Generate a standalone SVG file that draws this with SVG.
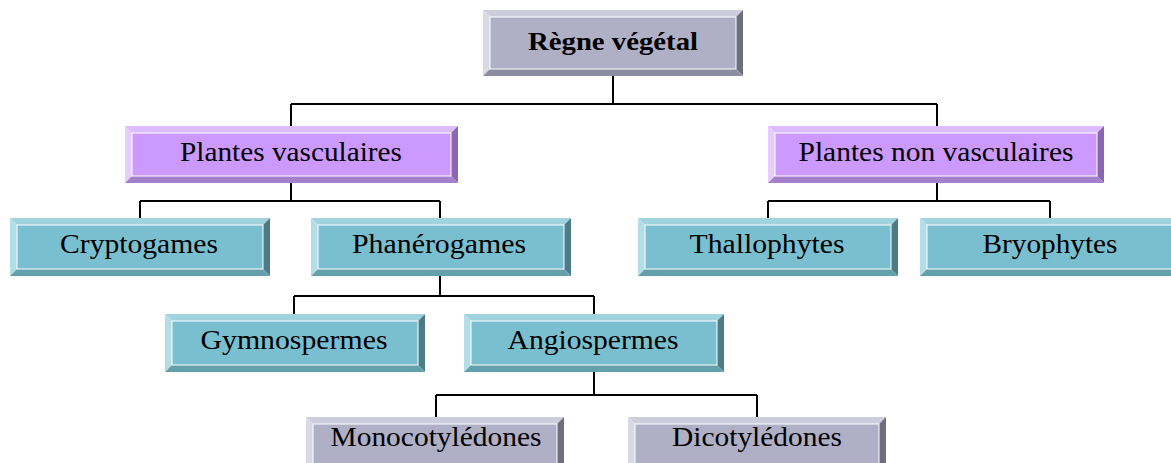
<svg xmlns="http://www.w3.org/2000/svg" width="1171" height="463" viewBox="0 0 1171 463">
<style>
text{font-family:"Liberation Serif","Times New Roman",serif;font-size:27px;fill:#000;text-anchor:middle}
.bold{font-weight:bold;font-size:26px}
.conn{fill:none;stroke:#000;stroke-width:2}
.face{stroke:#fff;stroke-width:1}
.g .face{fill:#afafc6}.g .t{fill:#cdcddc}.g .l{fill:#d9d9e6}.g .r{fill:#6e6e7e}.g .b{fill:#8c8ca2}
.p .face{fill:#cc99ff}.p .t{fill:#ddbbff}.p .l{fill:#e6ccff}.p .r{fill:#8a66b0}.p .b{fill:#a37fcc}
.c .face{fill:#79bfcf}.c .t{fill:#a1d3df}.c .l{fill:#b3dde7}.c .r{fill:#4d7c87}.c .b{fill:#63a0ac}
</style>
<g id="connectors" class="conn">
<path d="M613 76V104M291 104H937M291 104V126M937 104V126"/>
<path d="M291 183V201M140 201H440M140 201V218M440 201V218"/>
<path d="M937 183V201M768 201H1050M768 201V218M1050 201V218"/>
<path d="M440 276V296M294 296H594M294 296V314M594 296V314"/>
<path d="M594 372V395M436 395H757M436 395V417M757 395V417"/>
</g>
<g id="regne" class="g" transform="translate(483,10)">
<polygon class="t" points="0,0 260,0 253,7 7,7"/><polygon class="l" points="0,0 7,7 7,59 0,66"/>
<polygon class="r" points="260,0 260,66 253,59 253,7"/><polygon class="b" points="0,66 260,66 253,59 7,59"/>
<rect class="face" x="7" y="7" width="246" height="52"/>
<text class="bold" x="130" y="40" textLength="170" lengthAdjust="spacingAndGlyphs">Règne végétal</text>
</g>
<g id="vasculaires" class="p" transform="translate(125,126)">
<polygon class="t" points="0,0 333,0 326,7 7,7"/><polygon class="l" points="0,0 7,7 7,50 0,57"/>
<polygon class="r" points="333,0 333,57 326,50 326,7"/><polygon class="b" points="0,57 333,57 326,50 7,50"/>
<rect class="face" x="7" y="7" width="319" height="43"/>
<text x="166" y="35" textLength="222" lengthAdjust="spacingAndGlyphs">Plantes vasculaires</text>
</g>
<g id="nonvasculaires" class="p" transform="translate(768,126)">
<polygon class="t" points="0,0 336,0 329,7 7,7"/><polygon class="l" points="0,0 7,7 7,50 0,57"/>
<polygon class="r" points="336,0 336,57 329,50 329,7"/><polygon class="b" points="0,57 336,57 329,50 7,50"/>
<rect class="face" x="7" y="7" width="322" height="43"/>
<text x="168" y="35" textLength="275" lengthAdjust="spacingAndGlyphs">Plantes non vasculaires</text>
</g>
<g id="cryptogames" class="c" transform="translate(10,218)">
<polygon class="t" points="0,0 260,0 253,7 7,7"/><polygon class="l" points="0,0 7,7 7,51 0,58"/>
<polygon class="r" points="260,0 260,58 253,51 253,7"/><polygon class="b" points="0,58 260,58 253,51 7,51"/>
<rect class="face" x="7" y="7" width="246" height="44"/>
<text x="129" y="35" textLength="158" lengthAdjust="spacingAndGlyphs">Cryptogames</text>
</g>
<g id="phanerogames" class="c" transform="translate(311,218)">
<polygon class="t" points="0,0 260,0 253,7 7,7"/><polygon class="l" points="0,0 7,7 7,51 0,58"/>
<polygon class="r" points="260,0 260,58 253,51 253,7"/><polygon class="b" points="0,58 260,58 253,51 7,51"/>
<rect class="face" x="7" y="7" width="246" height="44"/>
<text x="128" y="35" textLength="174" lengthAdjust="spacingAndGlyphs">Phanérogames</text>
</g>
<g id="thallophytes" class="c" transform="translate(638,218)">
<polygon class="t" points="0,0 260,0 253,7 7,7"/><polygon class="l" points="0,0 7,7 7,51 0,58"/>
<polygon class="r" points="260,0 260,58 253,51 253,7"/><polygon class="b" points="0,58 260,58 253,51 7,51"/>
<rect class="face" x="7" y="7" width="246" height="44"/>
<text x="129" y="35" textLength="155" lengthAdjust="spacingAndGlyphs">Thallophytes</text>
</g>
<g id="bryophytes" class="c" transform="translate(920,218)">
<polygon class="t" points="0,0 260,0 253,7 7,7"/><polygon class="l" points="0,0 7,7 7,51 0,58"/>
<polygon class="r" points="260,0 260,58 253,51 253,7"/><polygon class="b" points="0,58 260,58 253,51 7,51"/>
<rect class="face" x="7" y="7" width="246" height="44"/>
<text x="130" y="35" textLength="135" lengthAdjust="spacingAndGlyphs">Bryophytes</text>
</g>
<g id="gymnospermes" class="c" transform="translate(165,314)">
<polygon class="t" points="0,0 260,0 253,7 7,7"/><polygon class="l" points="0,0 7,7 7,51 0,58"/>
<polygon class="r" points="260,0 260,58 253,51 253,7"/><polygon class="b" points="0,58 260,58 253,51 7,51"/>
<rect class="face" x="7" y="7" width="246" height="44"/>
<text x="129" y="35" textLength="187" lengthAdjust="spacingAndGlyphs">Gymnospermes</text>
</g>
<g id="angiospermes" class="c" transform="translate(464,314)">
<polygon class="t" points="0,0 260,0 253,7 7,7"/><polygon class="l" points="0,0 7,7 7,51 0,58"/>
<polygon class="r" points="260,0 260,58 253,51 253,7"/><polygon class="b" points="0,58 260,58 253,51 7,51"/>
<rect class="face" x="7" y="7" width="246" height="44"/>
<text x="129" y="35" textLength="171" lengthAdjust="spacingAndGlyphs">Angiospermes</text>
</g>
<g id="monocotyledones" class="g" transform="translate(306,417)">
<polygon class="t" points="0,0 258,0 251,7 7,7"/><polygon class="l" points="0,0 7,7 7,51 0,58"/>
<polygon class="r" points="258,0 258,58 251,51 251,7"/><polygon class="b" points="0,58 258,58 251,51 7,51"/>
<rect class="face" x="7" y="7" width="244" height="44"/>
<text x="130" y="29" textLength="211" lengthAdjust="spacingAndGlyphs">Monocotylédones</text>
</g>
<g id="dicotyledones" class="g" transform="translate(628,417)">
<polygon class="t" points="0,0 258,0 251,7 7,7"/><polygon class="l" points="0,0 7,7 7,51 0,58"/>
<polygon class="r" points="258,0 258,58 251,51 251,7"/><polygon class="b" points="0,58 258,58 251,51 7,51"/>
<rect class="face" x="7" y="7" width="244" height="44"/>
<text x="129" y="29" textLength="170" lengthAdjust="spacingAndGlyphs">Dicotylédones</text>
</g>
</svg>
